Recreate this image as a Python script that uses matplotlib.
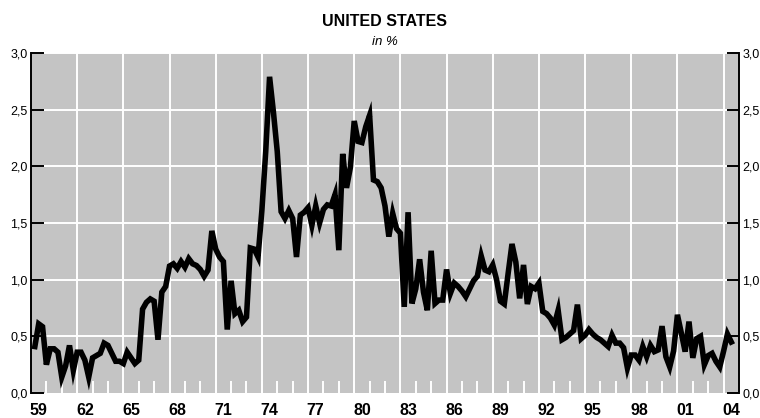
import matplotlib

matplotlib.use("Agg")
import matplotlib.pyplot as plt

# quarterly values, 1959Q1 .. 2004Q2, in %
first_year = 1959
rate = [
    0.41, 0.61, 0.585, 0.25,    # 1959
    0.39, 0.39, 0.36, 0.14,     # 1960
    0.24, 0.42, 0.20, 0.36,     # 1961
    0.36, 0.29, 0.14, 0.31,     # 1962
    0.33, 0.35, 0.44, 0.42,     # 1963
    0.35, 0.28, 0.28, 0.26,     # 1964
    0.36, 0.31, 0.26, 0.29,     # 1965
    0.74, 0.80, 0.83, 0.81,     # 1966
    0.47, 0.89, 0.94, 1.12,     # 1967
    1.14, 1.10, 1.16, 1.11,     # 1968
    1.185, 1.14, 1.125, 1.09,   # 1969
    1.03, 1.085, 1.43, 1.27,    # 1970
    1.20, 1.16, 0.56, 0.99,     # 1971
    0.70, 0.73, 0.63, 0.67,     # 1972
    1.28, 1.27, 1.20, 1.61,     # 1973
    2.13, 2.79, 2.48, 2.13,     # 1974
    1.60, 1.54, 1.61, 1.54,     # 1975
    1.20, 1.57, 1.595, 1.635,   # 1976
    1.48, 1.65, 1.50, 1.62,     # 1977
    1.66, 1.65, 1.75, 1.26,     # 1978
    2.11, 1.81, 1.99, 2.40,     # 1979
    2.22, 2.21, 2.35, 2.45,     # 1980
    1.88, 1.865, 1.81, 1.65,    # 1981
    1.38, 1.585, 1.45, 1.41,    # 1982
    0.76, 1.595, 0.79, 0.92,    # 1983
    1.18, 0.89, 0.73, 1.255,    # 1984
    0.79, 0.82, 0.82, 1.09,     # 1985
    0.88, 0.97, 0.94, 0.90,     # 1986
    0.85, 0.92, 0.99, 1.03,     # 1987
    1.21, 1.085, 1.07, 1.13,    # 1988
    1.00, 0.81, 0.785, 1.055,   # 1989
    1.315, 1.155, 0.835, 1.13,  # 1990
    0.785, 0.94, 0.92, 0.97,    # 1991
    0.72, 0.70, 0.66, 0.60,     # 1992
    0.73, 0.47, 0.49, 0.52,     # 1993
    0.55, 0.78, 0.48, 0.51,     # 1994
    0.56, 0.52, 0.49, 0.47,     # 1995
    0.44, 0.41, 0.51, 0.44,     # 1996
    0.44, 0.40, 0.22, 0.335,    # 1997
    0.335, 0.29, 0.41, 0.32,    # 1998
    0.42, 0.365, 0.38, 0.59,    # 1999
    0.32, 0.23, 0.37, 0.69,     # 2000
    0.53, 0.365, 0.63, 0.31,    # 2001
    0.48, 0.50, 0.25, 0.33,     # 2002
    0.35, 0.28, 0.23, 0.37,     # 2003
    0.52, 0.45,                 # 2004
]
label_years = list(range(1959, 2005, 3))
year_labels = [f"{y % 100:02d}" for y in label_years]
y_ticks = [0.0, 0.5, 1.0, 1.5, 2.0, 2.5, 3.0]
y_labels = [f"{v:.1f}".replace(".", ",") for v in y_ticks]

plt.rcParams["font.family"] = ["Liberation Sans", "DejaVu Sans"]

# points sit at the end of each quarter
t = [first_year + (i + 1) / 4 for i in range(len(rate))]

fig = plt.figure(figsize=(7.6, 4.18), dpi=100)
ax = fig.add_axes([31 / 760, 25 / 418, 708 / 760, 340 / 418])
ax.set_facecolor("#c4c4c4")
ax.set_xlim(1959, 2005)
ax.set_ylim(0, 3.0)

# grid: white, years every 3, values every 0.5
for yr in label_years[1:]:
    ax.axvline(yr, color="white", lw=1.4, zorder=1)
for v in y_ticks[1:]:
    ax.axhline(v, color="white", lw=1.4, zorder=1)

ax.plot(t, rate, color="black", lw=4.0, solid_joinstyle="miter", zorder=3)

for side in ("top", "bottom"):
    ax.spines[side].set_visible(False)
for side in ("left", "right"):
    ax.spines[side].set_linewidth(1.4)

ax.set_yticks(y_ticks)
ax.set_yticklabels(y_labels)
ax.tick_params(axis="y", direction="in", length=9, width=1.4, left=True, right=True,
               labelleft=True, labelright=True, labelsize=9, pad=2.5)

# year labels centred on mid-year, white inner ticks at every year
ax.set_xticks([y + 0.5 for y in label_years])
ax.set_xticklabels(year_labels, fontweight="bold", fontsize=11.5)
ax.tick_params(axis="x", which="major", length=0, pad=7)
ax.set_xticks(range(1960, 2005), minor=True)
ax.tick_params(axis="x", which="minor", direction="in", length=9, width=1.4, color="white")

fig.text(385 / 760, 1 - 22 / 418, "UNITED STATES", ha="center", va="center",
         fontweight="bold", fontsize=11.5)
fig.text(385 / 760, 1 - 42 / 418, "in %", ha="center", va="center",
         style="italic", fontsize=9.5)

fig.savefig("out.png", dpi=100)
plt.close(fig)
